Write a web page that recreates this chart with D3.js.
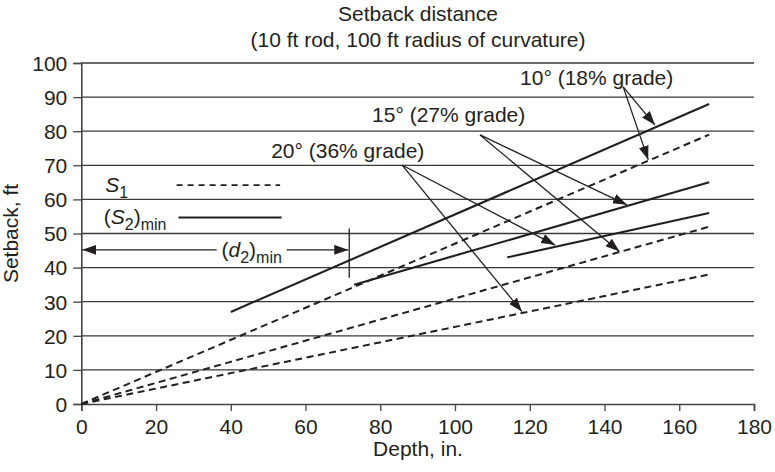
<!DOCTYPE html>
<html>
<head>
<meta charset="utf-8">
<script src="https://cdn.jsdelivr.net/npm/d3@7"></script>
<style>
  html, body { margin: 0; padding: 0; background: #fff; }
  svg { display: block; font-family: "Liberation Sans", Arial, Helvetica, sans-serif; }
</style>
</head>
<body>
<svg id="chart" width="775" height="472"></svg>
<script>
// ---- Data ----
const xTicks = [0, 20, 40, 60, 80, 100, 120, 140, 160, 180];
const yTicks = [0, 10, 20, 30, 40, 50, 60, 70, 80, 90, 100];

const angles = ["10°", "15°", "20°"];
const grades = ["18%", "27%", "36%"];

// S1 (dashed) lines: [depth, setback] endpoints
const s1_10 = [[0, 0], [168, 79]];
const s1_15 = [[0, 0], [168, 52]];
const s1_20 = [[0, 0], [168, 38]];

// (S2)min (solid) lines
const s2_10 = [[40, 27], [168, 88]];
const s2_15 = [[73, 35], [168, 65]];
const s2_20 = [[114, 43], [168, 56]];

// Annotation label anchors and arrow targets [depth, setback]
const labelPos = [[137.9, 93.5], [98.3, 82.8], [71.3, 72.2]];
const arrowFrom = [[145, 93.0], [106.7, 78.9], [85.8, 70.1]];
const arrowToSolid = [[153.5, 81.8], [146, 58.4], [126.8, 46.6]];
const arrowToDashed = [[151.7, 71.6], [144, 44.7], [117.9, 27.1]];

// (d2)min dimension
const d2min = 71.7;
const d2Level = 45.2;
const d2Tick = [37, 51.5];

// Legend samples
const legendS1 = [[25.5, 64.2], [53.2, 64.2]];
const legendS2 = [[26, 54.7], [53.6, 54.7]];

// ---- Drawing ----
const svg = d3.select("#chart");
const x = d3.scaleLinear().domain([0, 180]).range([81.3, 754]);
const y = d3.scaleLinear().domain([0, 100]).range([404, 63]);
const ink = "#231f20";
const fontSize = 21;
const subSize = 16;

// Gridlines
svg.append("g").selectAll("line").data(yTicks.filter(d => d > 0)).join("line")
  .attr("x1", x(0)).attr("x2", x(180))
  .attr("y1", d => y(d)).attr("y2", d => y(d))
  .attr("stroke", "#3a3a3a").attr("stroke-width", 1.3);

// Axes
const xAxis = svg.append("g").attr("transform", `translate(0,${y(0)})`)
  .call(d3.axisBottom(x).tickValues(xTicks).tickSize(7).tickPadding(5).tickFormat(d3.format("d")));
const yAxis = svg.append("g").attr("transform", `translate(${x(0)},0)`)
  .call(d3.axisLeft(y).tickValues(yTicks).tickSize(8).tickPadding(6).tickFormat(d3.format("d")));
[xAxis, yAxis].forEach(g => {
  g.select(".domain").attr("stroke", "#444").attr("stroke-width", 1.6);
  g.selectAll(".tick line").attr("stroke", "#444").attr("stroke-width", 1.3);
  g.selectAll(".tick text").attr("fill", ink).attr("font-size", fontSize)
    .attr("font-family", "'Liberation Sans', Arial, sans-serif");
});
yAxis.selectAll(".tick text").attr("dy", "0.35em");
xAxis.selectAll(".tick text").attr("dy", "0.85em");

// Lines
const line = d3.line().x(d => x(d[0])).y(d => y(d[1]));
[s1_10, s1_15, s1_20].forEach(s => {
  svg.append("path").attr("d", line(s)).attr("fill", "none")
    .attr("stroke", ink).attr("stroke-width", 2).attr("stroke-dasharray", "7,4.5");
});
[s2_10, s2_15, s2_20].forEach(s => {
  svg.append("path").attr("d", line(s)).attr("fill", "none")
    .attr("stroke", ink).attr("stroke-width", 2.1);
});

// Arrow markers
const defs = svg.append("defs");
defs.append("marker").attr("id", "arr").attr("markerUnits", "userSpaceOnUse")
  .attr("viewBox", "0 0 14 10").attr("refX", 14).attr("refY", 5)
  .attr("markerWidth", 14).attr("markerHeight", 10).attr("orient", "auto")
  .append("path").attr("d", "M0,0 L14,5 L0,10 Z").attr("fill", ink);
defs.append("marker").attr("id", "arrS").attr("markerUnits", "userSpaceOnUse")
  .attr("viewBox", "0 0 14 10").attr("refX", 14).attr("refY", 5)
  .attr("markerWidth", 14).attr("markerHeight", 10).attr("orient", "auto-start-reverse")
  .append("path").attr("d", "M0,0 L14,5 L0,10 Z").attr("fill", ink);

// Annotation labels and arrows
angles.forEach((a, i) => {
  svg.append("text").attr("x", x(labelPos[i][0])).attr("y", y(labelPos[i][1]))
    .attr("text-anchor", "middle").attr("font-size", fontSize).attr("fill", ink)
    .text(`${a} (${grades[i]} grade)`);
  [arrowToSolid[i], arrowToDashed[i]].forEach(t => {
    svg.append("line")
      .attr("x1", x(arrowFrom[i][0])).attr("y1", y(arrowFrom[i][1]))
      .attr("x2", x(t[0])).attr("y2", y(t[1]))
      .attr("stroke", ink).attr("stroke-width", 1.3).attr("marker-end", "url(#arr)");
  });
});

// Legend
svg.append("path").attr("d", line(legendS1)).attr("stroke", ink).attr("stroke-width", 1.8)
  .attr("stroke-dasharray", "6,5").attr("fill", "none");
svg.append("path").attr("d", line(legendS2)).attr("stroke", ink).attr("stroke-width", 2)
  .attr("fill", "none");
const t1 = svg.append("text").attr("x", x(6.4)).attr("y", y(legendS1[0][1]) + 7)
  .attr("font-size", fontSize).attr("fill", ink);
t1.append("tspan").attr("font-style", "italic").text("S");
t1.append("tspan").attr("font-size", subSize).attr("dy", 6).text("1");
const t2 = svg.append("text").attr("x", x(6.0)).attr("y", y(legendS2[0][1]) + 7)
  .attr("font-size", fontSize).attr("fill", ink);
t2.append("tspan").text("(");
t2.append("tspan").attr("font-style", "italic").text("S");
t2.append("tspan").attr("font-size", subSize).attr("dy", 6).text("2");
t2.append("tspan").attr("dy", -6).text(")");
t2.append("tspan").attr("font-size", subSize).attr("dy", 6).text("min");

// (d2)min dimension
svg.append("line").attr("x1", x(0) + 1).attr("x2", x(d2min) - 1)
  .attr("y1", y(d2Level)).attr("y2", y(d2Level))
  .attr("stroke", ink).attr("stroke-width", 1.3)
  .attr("marker-start", "url(#arrS)").attr("marker-end", "url(#arr)");
svg.append("line").attr("x1", x(d2min)).attr("x2", x(d2min))
  .attr("y1", y(d2Tick[0])).attr("y2", y(d2Tick[1]))
  .attr("stroke", ink).attr("stroke-width", 1.3);
svg.append("rect")
  .attr("x", x(45.6) - 35).attr("y", y(d2Level) - 12).attr("width", 70).attr("height", 24)
  .attr("fill", "#fff");
const d2t = svg.append("text").attr("x", x(45.6)).attr("y", y(d2Level) + 7)
  .attr("text-anchor", "middle").attr("font-size", fontSize).attr("fill", ink);
d2t.append("tspan").text("(");
d2t.append("tspan").attr("font-style", "italic").text("d");
d2t.append("tspan").attr("font-size", subSize).attr("dy", 6).text("2");
d2t.append("tspan").attr("dy", -6).text(")");
d2t.append("tspan").attr("font-size", subSize).attr("dy", 6).text("min");

// Titles
svg.append("text").attr("x", 418).attr("y", 21).attr("text-anchor", "middle")
  .attr("font-size", fontSize).attr("fill", ink).text("Setback distance");
svg.append("text").attr("x", 418).attr("y", 47).attr("text-anchor", "middle")
  .attr("font-size", fontSize).attr("fill", ink).text("(10 ft rod, 100 ft radius of curvature)");
svg.append("text").attr("x", 418).attr("y", 456).attr("text-anchor", "middle")
  .attr("font-size", fontSize).attr("fill", ink).text("Depth, in.");
svg.append("text").attr("transform", `translate(18,${(y(0) + y(100)) / 2}) rotate(-90)`)
  .attr("text-anchor", "middle").attr("font-size", fontSize).attr("fill", ink).text("Setback, ft");
</script>
</body>
</html>
